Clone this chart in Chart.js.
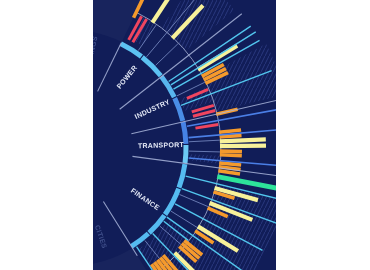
<!DOCTYPE html>
<html><head><meta charset="utf-8">
<script src="https://cdn.jsdelivr.net/npm/chart.js@4"></script>
<style>
html,body{margin:0;padding:0;background:#fff;width:370px;height:270px;overflow:hidden}
#panel{position:absolute;left:93px;top:0;width:183px;height:270px;background:#111d58;overflow:hidden}
canvas{display:block}
</style></head><body>
<div id="panel"><canvas id="c" width="183" height="270"></canvas></div>
<script>
// ---- data (angle in degrees, counter-clockwise from east; radii in chart units) ----
const sectorNames = ['POWER', 'INDUSTRY', 'TRANSPORT', 'FINANCE'];
const sectorFrom = [64, 38, 13, -8];
const sectorTo = [38, 13, -8, -58];
const sectorLabelAngle = [51, 25, 1.5, -34.5];
const dimNames = ['BUILDINGS', 'CITIES'];
const dimLabelAngle = [77, -71];

const redSpokes = [[61.5,123,150],[59.3,123,150],[23,127,150],[16.5,127,150],[14.5,127,150],[9,127,150]];
const orangeSpokes = [[64,145,182],[28.5,150,175],[27,150,175],[25.5,150,175],[13,150,172],[6,150,172],[4.2,150,172],
  [-1.2,150,172],[-2.6,150,172],[-5.7,150,172],[-7.2,150,172],[-8.7,150,172],[-17,150,172],[-23.5,150,172],
  [-33.5,150,172],[-39,147,170],[-40.5,147,170],[-42,147,170],[-49,142,166],[-50.5,142,166],[-52,142,166],[-53.5,142,166],[-55,142,166]];
const yellowSpokes = [[56.7,150,192],[47,150,195],[31.5,150,196],[2.5,150,196],[0.7,150,196],[-15.5,150,195],[-21.5,150,196],[-31.5,150,197],[-45,148,182]];
const greenSpokes = [[-11,150,222]];
const cyanSpokes = [[34,119,218],[32,119,219],[29.6,119,218],[21,119,216],[-13.7,119,216],[-20,119,222],[-28,119,218],[-35.5,119,212],[-38,119,150],[-46,119,195],[-56,119,150]];
const blueSpokes = [[10.5,119,216],[5,119,216],[-4.8,119,216]];
const greySpokes = [[50,119,196],[55,119,150],[44,119,150],[26,119,150],[3,119,150],[-1.5,119,150],[-23,119,150],[-32,119,150],[-41,119,147],[-51,119,142]];
const dividerSpokes = [[64,63,117],[38,63,218],[13,63,216],[-7.6,63,216],[-58,63,127]];
const hatchSectors = [[53,40,150,215],[62,55,125,150],[28,14,150,222],[24,18,120,150],[-3,-6,120,150],[-14,-36,152,222],[-36,-56,122,205]];
const arcSegments = [[64,52],[51.5,38.5],[38,26],[25.5,13.5],[13,2],[1.5,-7.5],[-8,-20],[-20.5,-35],[-35.5,-47],[-47.5,-58]];
const arcColors = ['#5cc2f2','#5cc2f2','#58b6ef','#4a8ee6','#4682e4','#6ccaf5','#55bbf0','#55bbf0','#55bbf0','#55bbf0'];

// ---- build datasets ----
const rad = d => d * Math.PI / 180;
function spokeSets(list, color, width) {
  return list.map(([a, r0, r1]) => ({
    data: [{x: r0 * Math.cos(rad(a)), y: r0 * Math.sin(rad(a))}, {x: r1 * Math.cos(rad(a)), y: r1 * Math.sin(rad(a))}],
    borderColor: color, borderWidth: width, showLine: true, pointRadius: 0, borderCapStyle: 'butt'
  }));
}
const datasets = [
  ...spokeSets(greySpokes, 'rgba(140,160,215,0.7)', 1),
  ...spokeSets(cyanSpokes, '#52c6ee', 1.4),
  ...spokeSets(blueSpokes, '#4b7fe6', 1.6),
  ...spokeSets(dividerSpokes, 'rgba(170,182,220,0.85)', 1.1),
  ...spokeSets(redSpokes, '#f0455f', 3),
  ...spokeSets(orangeSpokes, '#f59a2c', 3.6),
  ...spokeSets(yellowSpokes, '#f7f19a', 4.2),
  ...spokeSets(greenSpokes, '#2de39a', 5),
];

function makeHatch(ctx) {
  const p = document.createElement('canvas');
  p.width = 4; p.height = 8;
  const g = p.getContext('2d');
  g.strokeStyle = 'rgba(95,115,205,0.32)';
  g.lineWidth = 1;
  g.beginPath(); g.moveTo(-1, 10); g.lineTo(5, -2); g.stroke();
  return ctx.createPattern(p, 'repeat');
}

const decor = {
  id: 'decor',
  beforeDatasetsDraw(chart) {
    const {ctx, scales: {x, y}} = chart;
    const cx = x.getPixelForValue(0), cy = y.getPixelForValue(0);
    const u = v => x.getPixelForValue(v) - cx;
    ctx.save();
    ctx.fillStyle = 'rgba(255,255,255,0.03)';
    [[118, 64], [-58, -118]].forEach(([a1, a2]) => {
      ctx.beginPath();
      ctx.arc(cx, cy, u(300), -rad(a1), -rad(a2), false);
      ctx.arc(cx, cy, u(118), -rad(a2), -rad(a1), true);
      ctx.closePath(); ctx.fill();
    });
    ctx.fillStyle = makeHatch(ctx);
    hatchSectors.forEach(([a1, a2, r0, r1]) => {
      ctx.beginPath();
      ctx.arc(cx, cy, u(r1), -rad(a1), -rad(a2), false);
      ctx.arc(cx, cy, u(r0), -rad(a2), -rad(a1), true);
      ctx.closePath(); ctx.fill();
    });
    ctx.strokeStyle = 'rgba(170,180,215,0.8)';
    ctx.lineWidth = 1;
    ctx.beginPath(); ctx.arc(cx, cy, u(151), -rad(64), -rad(-58), false); ctx.stroke();
    ctx.lineWidth = 5;
    arcSegments.forEach(([a1, a2], i) => {
      ctx.strokeStyle = arcColors[i];
      ctx.beginPath(); ctx.arc(cx, cy, u(116), -rad(a1), -rad(a2), false); ctx.stroke();
    });
    ctx.restore();
  },
  afterDatasetsDraw(chart) {
    const {ctx, scales: {x, y}} = chart;
    const cx = x.getPixelForValue(0), cy = y.getPixelForValue(0);
    const u = v => x.getPixelForValue(v) - cx;
    ctx.save();
    ctx.font = 'bold 7px "Liberation Sans", Arial, sans-serif';
    ctx.textAlign = 'center'; ctx.textBaseline = 'middle';
    try { ctx.letterSpacing = '0.3px'; } catch (e) {}
    const put = (txt, a, r, col) => {
      ctx.save();
      ctx.translate(cx + u(r) * Math.cos(rad(a)), cy - u(r) * Math.sin(rad(a)));
      ctx.rotate(-rad(a));
      ctx.fillStyle = col;
      ctx.fillText(txt, 0, 0);
      ctx.restore();
    };
    sectorNames.forEach((n, i) => put(n, sectorLabelAngle[i], 91, '#e3e8f6'));
    dimNames.forEach((n, i) => put(n, dimLabelAngle[i], 94, 'rgba(120,140,200,0.45)'));
    ctx.restore();
  }
};

new Chart(document.getElementById('c'), {
  type: 'scatter',
  data: {datasets},
  options: {
    responsive: false, animation: false, devicePixelRatio: 1,
    layout: {padding: 0},
    plugins: {legend: {display: false}, tooltip: {enabled: false}},
    scales: {
      x: {type: 'linear', min: 23, max: 206, display: false},
      y: {type: 'linear', min: -122, max: 148, display: false}
    }
  },
  plugins: [decor]
});
</script>
</body></html>
